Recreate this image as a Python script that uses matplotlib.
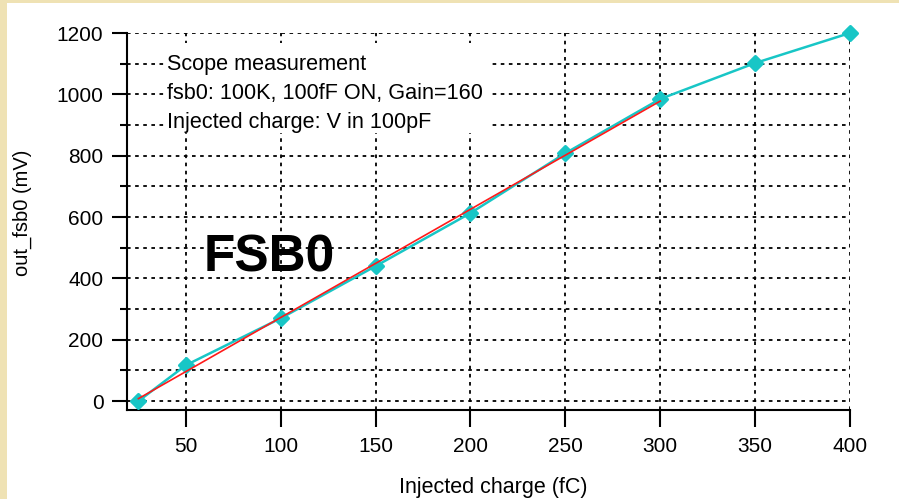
import matplotlib
matplotlib.use("Agg")
import matplotlib.pyplot as plt
from matplotlib.patches import Rectangle
from matplotlib.markers import MarkerStyle

# Data
charge_fc = [25, 50, 100, 150, 200, 250, 300, 350, 400]
out_mv = [0, 117, 270, 440, 613, 808, 985, 1102, 1200]
fit_x = [25, 300]
fit_y = [8, 978]
x_ticks = [50, 100, 150, 200, 250, 300, 350, 400]
y_major = [0, 200, 400, 600, 800, 1000, 1200]
y_minor = [100, 300, 500, 700, 900, 1100]
note_lines = ['Scope measurement', 'fsb0: 100K, 100fF ON, Gain=160', 'Injected charge: V in 100pF']

plt.rcParams['font.family'] = ['Liberation Sans', 'DejaVu Sans']

W, H = 899, 499
fig = plt.figure(figsize=(W / 100, H / 100), dpi=100)
fig.patch.set_facecolor('#EFE2B4')
fig.patches.append(Rectangle((7 / W, 0), 1 - 7 / W, 1 - 3 / H, transform=fig.transFigure,
                             facecolor='white', edgecolor='none', zorder=-5))

l, r, t, b = 127, 850, 33, 410
ax = fig.add_axes([l / W, 1 - b / H, (r - l) / W, (b - t) / H])
ax.set_zorder(1)
ax.set_facecolor('none')
ax.set_xlim(19, 400)
ax.set_ylim(-29, 1200)

for s in ['top', 'right']:
    ax.spines[s].set_visible(False)
for s in ['left', 'bottom']:
    ax.spines[s].set_linewidth(1.5)
    ax.spines[s].set_color('black')

ax.set_xticks(x_ticks)
ax.set_yticks(y_major)
ax.set_yticks(y_minor, minor=True)
ax.tick_params(axis='x', which='major', direction='out', length=12.5, width=1.5,
               labelsize=15, pad=7)
ax.tick_params(axis='y', which='major', direction='out', length=11, width=1.5,
               labelsize=15, pad=6)
ax.tick_params(axis='y', which='minor', direction='out', length=5, width=1.5)

ax.grid(True, which='both', axis='y', linestyle=(0, (2, 2.5)), color='black', linewidth=1.3)
ax.grid(True, which='major', axis='x', linestyle=(0, (2, 2.5)), color='black', linewidth=1.3)
ax.set_axisbelow(True)

ax.plot(charge_fc, out_mv, color='#18C6C6', linewidth=1.8,
        marker=MarkerStyle('D', joinstyle='round'), markersize=7,
        markeredgewidth=2.2, markeredgecolor='#18C6C6', clip_on=False, zorder=3)
ax.plot(fit_x, fit_y, color='#FF1A1A', linewidth=1.2, zorder=4)

fig.text(493 / W, 1 - 493 / H, 'Injected charge (fC)', fontsize=15.5,
         ha='center', va='baseline')
fig.text(22 / W, 1 - 213 / H, 'out_fsb0 (mV)', fontsize=14.5, rotation=90,
         ha='center', va='center')

# white box behind the note
ax.add_patch(Rectangle((165 / W, 1 - 133 / H), (490 - 165) / W, (133 - 43) / H,
                       transform=fig.transFigure, facecolor='white', edgecolor='none',
                       zorder=2.5))
for i, line in enumerate(note_lines):
    ax.text(167 / W, 1 - (70 + 29 * i) / H, line, transform=fig.transFigure,
            fontsize=15.6, va='baseline', ha='left', zorder=5)

ax.text(204 / W, 1 - 271 / H, 'FSB0', transform=fig.transFigure, fontsize=37,
        fontweight='bold', va='baseline', ha='left', zorder=5)

fig.savefig('out.png', dpi=100)
